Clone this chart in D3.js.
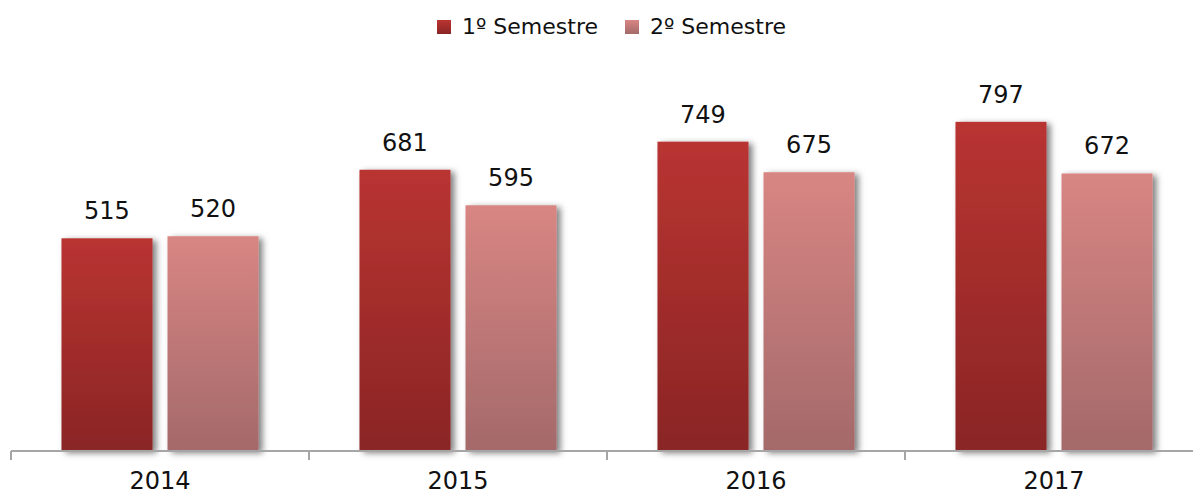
<!DOCTYPE html>
<html lang="pt">
<head>
<meta charset="UTF-8">
<title>Semestres</title>
<style>
  body { margin: 0; background: #fff; }
  svg text { font-family: "DejaVu Sans", sans-serif; fill: #111; }
</style>
</head>
<body>
<script src="https://cdnjs.cloudflare.com/ajax/libs/d3/7.8.5/d3.min.js"></script>
<script>
'use strict';
// dados
const anos = ["2014", "2015", "2016", "2017"];
const series = ["1º Semestre", "2º Semestre"];
const sem1 = [515, 681, 749, 797];
const sem2 = [520, 595, 675, 672];

const W = 1193, H = 495;
const base = 451;

const svg = d3.select("body").append("svg")
  .attr("width", W)
  .attr("height", H);

const defs = svg.append("defs");
const grads = [["#b93431", "#8a2525"], ["#d88683", "#a4696a"]];
grads.forEach((c, i) => {
  const g = defs.append("linearGradient")
    .attr("id", "g" + i)
    .attr("x1", 0).attr("y1", 0).attr("x2", 0).attr("y2", 1);
  g.append("stop").attr("offset", "0%").attr("stop-color", c[0]);
  g.append("stop").attr("offset", "100%").attr("stop-color", c[1]);
});
const f = defs.append("filter").attr("id", "ombra")
  .attr("x", "-10%").attr("y", "-10%").attr("width", "130%").attr("height", "120%");
f.append("feDropShadow")
  .attr("dx", 4).attr("dy", 2).attr("stdDeviation", 3)
  .attr("flood-color", "#000").attr("flood-opacity", 0.5);

// échelles
const x0 = d3.scaleBand().domain(anos).range([11, 1203]);
const x1 = d3.scaleBand().domain(series)
  .range([0, x0.bandwidth()])
  .paddingInner(15 / 106)
  .paddingOuter(0.476);
const y = d3.scaleLinear().domain([0, 1000]).range([base, 38]);

const donnees = anos.map((a, i) => ({ ano: a, vals: [sem1[i], sem2[i]] }));

// barres
const grp = svg.selectAll("g.ano")
  .data(donnees)
  .enter().append("g")
  .attr("class", "ano")
  .attr("transform", d => `translate(${x0(d.ano)},0)`);

grp.selectAll("rect")
  .data(d => d.vals.map((v, k) => ({ s: series[k], k: k, v: v })))
  .enter().append("rect")
  .attr("x", d => x1(d.s))
  .attr("y", d => y(d.v))
  .attr("width", x1.bandwidth())
  .attr("height", d => base - y(d.v))
  .attr("fill", d => `url(#g${d.k})`)
  .attr("filter", "url(#ombra)");

grp.selectAll("text")
  .data(d => d.vals.map((v, k) => ({ s: series[k], v: v })))
  .enter().append("text")
  .attr("x", d => x1(d.s) + x1.bandwidth() / 2)
  .attr("y", d => y(d.v) - 19)
  .attr("text-anchor", "middle")
  .style("font-size", "24px")
  .text(d => d.v);

// axe des X
const axe = svg.append("g")
  .attr("transform", `translate(0,${base})`)
  .call(d3.axisBottom(x0).tickSize(0).tickPadding(21));
axe.select(".domain").remove();
axe.append("line")
  .attr("x1", 11).attr("x2", W)
  .attr("y1", 0).attr("y2", 0)
  .attr("stroke", "#a6a6a6").attr("stroke-width", 2);
axe.selectAll(".sep")
  .data(anos)
  .enter().append("line")
  .attr("class", "sep")
  .attr("x1", d => x0(d)).attr("x2", d => x0(d))
  .attr("y1", 0).attr("y2", 9)
  .attr("stroke", "#a6a6a6").attr("stroke-width", 2);
axe.selectAll(".tick text")
  .style("font-size", "24px")
  .style("font-family", "DejaVu Sans, sans-serif")
  .attr("fill", "#111");

// légende
const leg = svg.append("g");
const legX = [437, 625];
series.forEach((s, i) => {
  leg.append("rect")
    .attr("x", legX[i]).attr("y", 20)
    .attr("width", 14).attr("height", 14)
    .attr("fill", `url(#g${i})`);
  leg.append("text")
    .attr("x", legX[i] + 25).attr("y", 34)
    .style("font-size", "22px")
    .text(s);
});
</script>
</body>
</html>
